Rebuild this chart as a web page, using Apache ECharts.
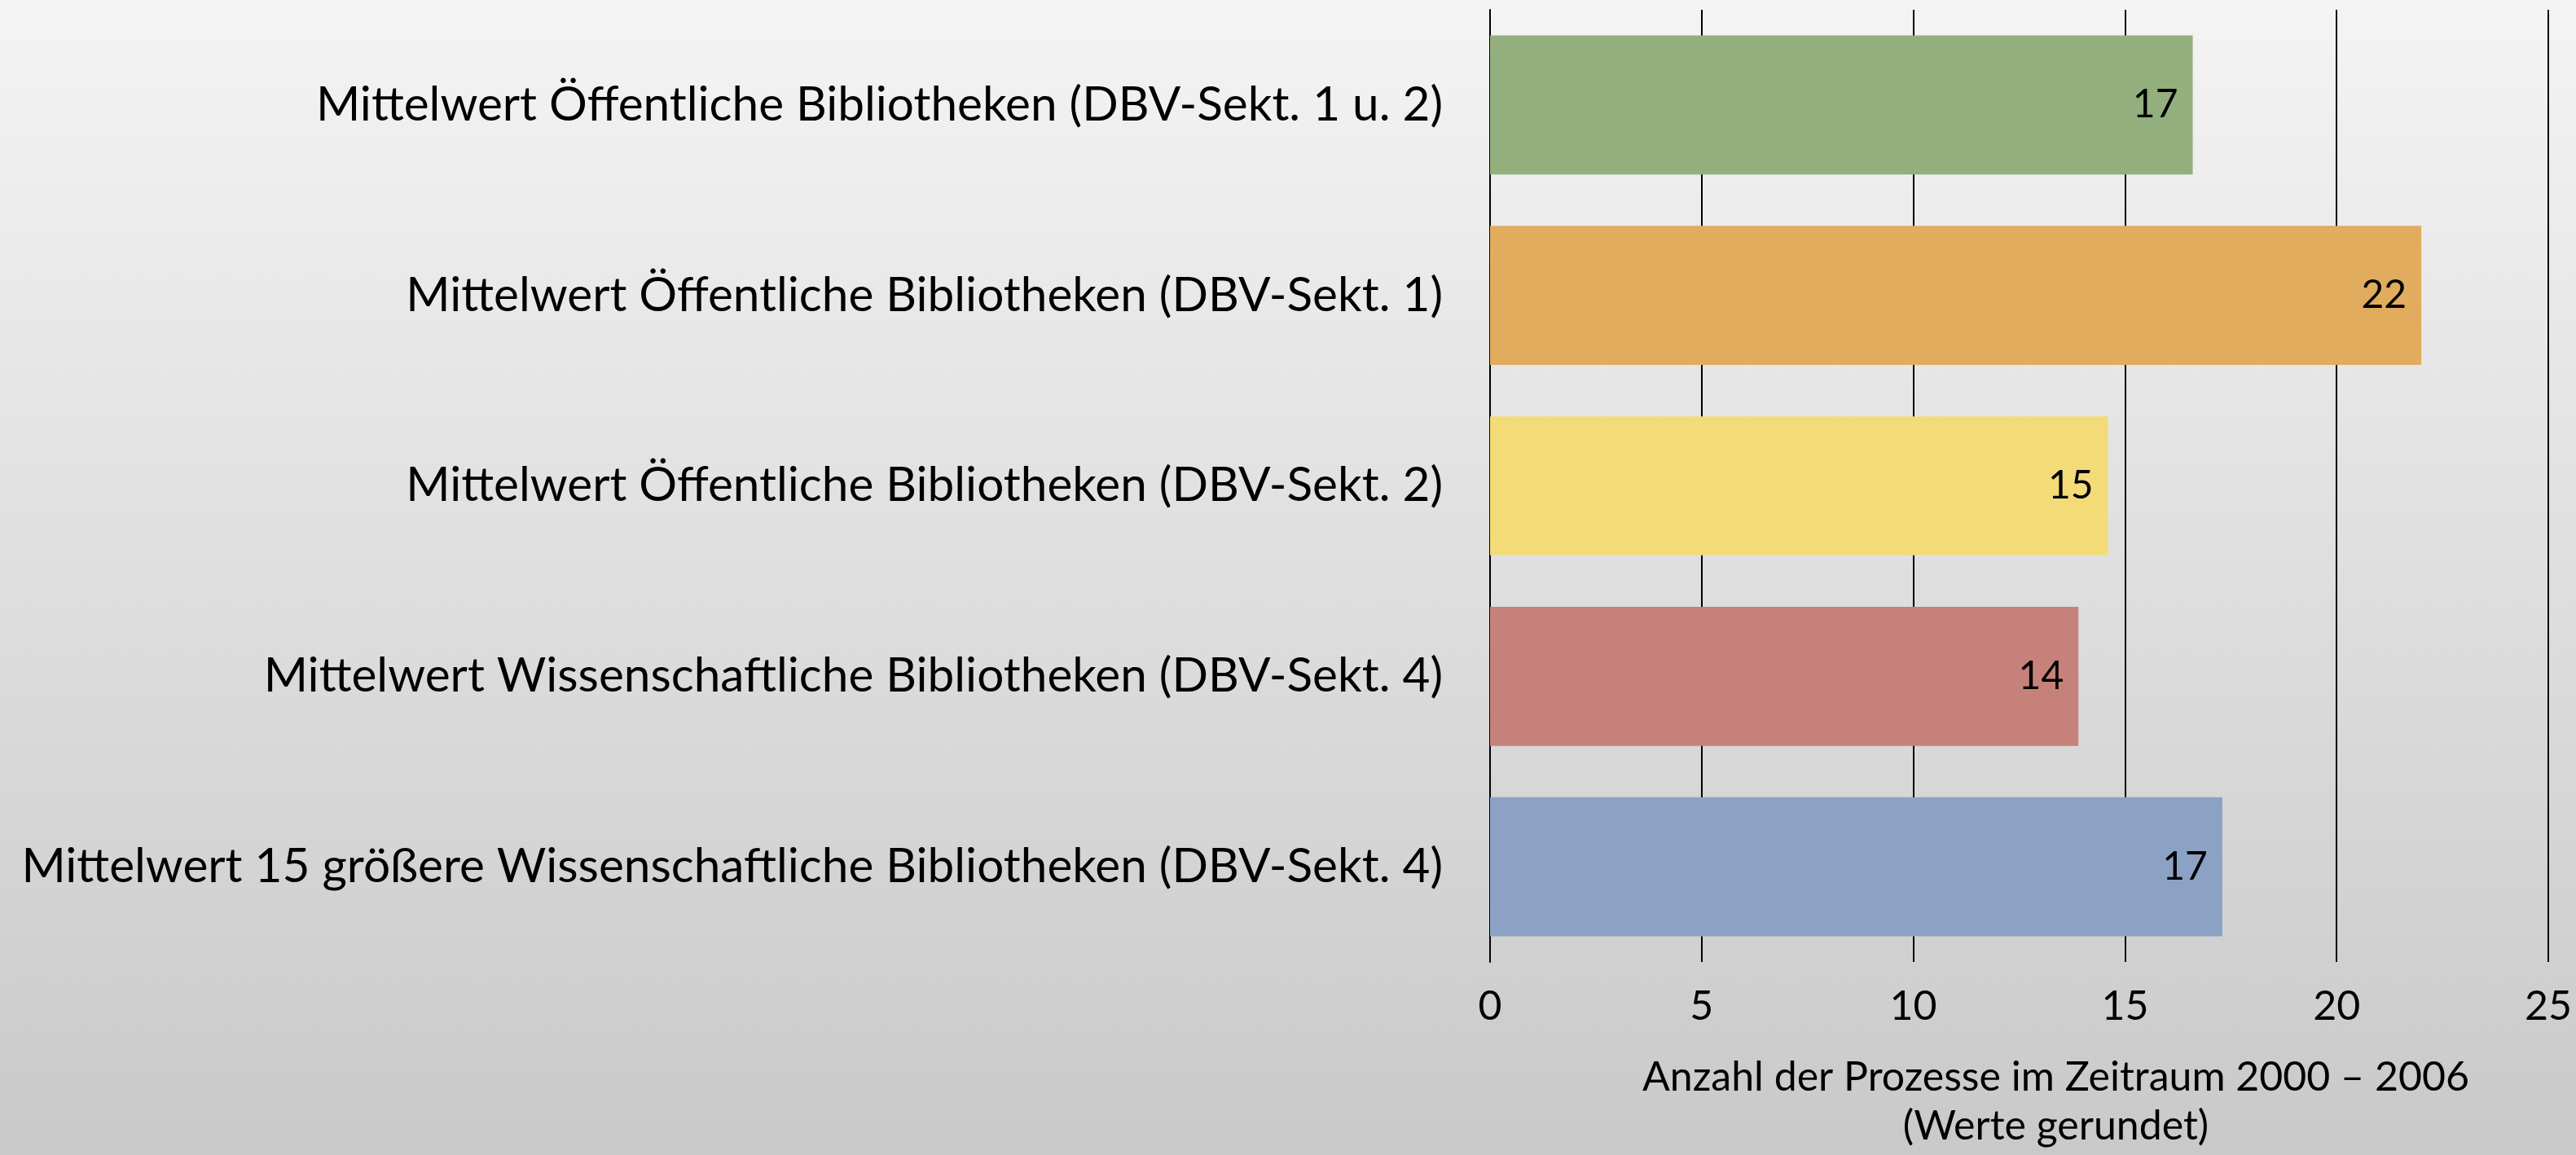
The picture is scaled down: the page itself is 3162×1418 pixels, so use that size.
<!DOCTYPE html>
<html>
<head>
<meta charset="utf-8">
<script src="https://cdn.jsdelivr.net/npm/echarts@6.0.0/dist/echarts.min.js"></script>
<style>
  html, body { margin: 0; padding: 0; }
  #chart { width: 3162px; height: 1418px; background: linear-gradient(to bottom, #f4f4f4 0%, #c9c9c9 100%); }
</style>
</head>
<body>
<div id="chart"></div>
<script>
// Kategorien von oben nach unten
const categories = [
    'Mittelwert Öffentliche Bibliotheken (DBV-Sekt. 1 u. 2)',
    'Mittelwert Öffentliche Bibliotheken (DBV-Sekt. 1)',
    'Mittelwert Öffentliche Bibliotheken (DBV-Sekt. 2)',
    'Mittelwert Wissenschaftliche Bibliotheken (DBV-Sekt. 4)',
    'Mittelwert 15 größere Wissenschaftliche Bibliotheken (DBV-Sekt. 4)'
];
const values = [16.6, 22.0, 14.6, 13.9, 17.3];
const barColors = ['#93af7d', '#e1ac5e', '#f3db78', '#c6827a', '#8ca2c4'];
const xTicks = [0, 5, 10, 15, 20, 25];
const axisTitle = 'Anzahl der Prozesse im Zeitraum 2000 – 2006\n(Werte gerundet)';

const font = 'Lato, "Open Sans", sans-serif';
const chart = echarts.init(document.getElementById('chart'));

chart.setOption({
    backgroundColor: 'transparent',
    animation: false,
    grid: { left: 1829, right: 34, top: 12, bottom: 224 },
    xAxis: {
        type: 'value',
        min: xTicks[0], max: xTicks[xTicks.length - 1], interval: 5,
        axisLine: { show: false },
        axisTick: { show: false },
        splitLine: { show: true, lineStyle: { color: '#000', width: 2 } },
        axisLabel: { color: '#000', fontSize: 50, fontFamily: font, margin: 30 },
        name: axisTitle,
        nameLocation: 'middle',
        nameGap: 112,
        nameTextStyle: { color: '#000', fontSize: 50, fontFamily: font, lineHeight: 60, padding: [0, 0, 0, 90] }
    },
    yAxis: {
        type: 'category',
        data: categories,
        inverse: true,
        axisLine: { show: true, lineStyle: { color: '#000', width: 2 } },
        axisTick: { show: false },
        axisLabel: { color: '#000', fontSize: 58.5, fontFamily: font, margin: 58 }
    },
    series: [{
        type: 'bar',
        data: values.map((v, i) => ({ value: v, itemStyle: { color: barColors[i] } })),
        barCategoryGap: '27%',
        label: {
            show: true,
            position: 'insideRight',
            distance: 18,
            color: '#000',
            fontSize: 48,
            fontFamily: font,
            formatter: p => Math.round(p.value)
        }
    }]
});

window.addEventListener('resize', () => chart.resize());
</script>
</body>
</html>
